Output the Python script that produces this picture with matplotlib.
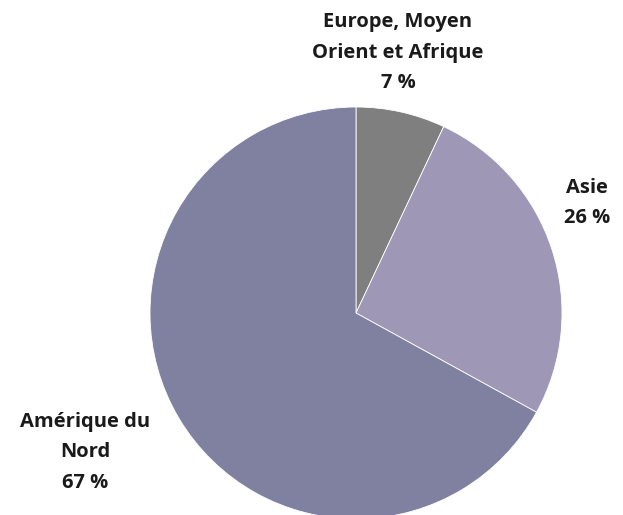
import matplotlib.pyplot as plt

regions = ['Europe, Moyen\nOrient et Afrique', 'Asie', 'Amérique du\nNord']
shares = [7, 26, 67]
colors = ['#7f7f7f', '#9e98b6', '#8081a0']
# label anchor positions in pixel space (x, y from top)
label_pos = [(398, 53), (587, 203), (85, 452)]

plt.rcParams['font.family'] = ['Open Sans', 'DejaVu Sans']

fig = plt.figure(figsize=(6.23, 5.15), dpi=100)
ax = fig.add_axes([0, 0, 1, 1])

ax.pie(shares, colors=colors, startangle=90, counterclock=False,
       center=(356, 515 - 313), radius=206,
       wedgeprops=dict(edgecolor='white', linewidth=0.6))

# pie() resets the limits, so set them afterwards
ax.set_xlim(0, 623)
ax.set_ylim(0, 515)
ax.set_aspect('equal')
ax.axis('off')

for name, val, (x, y) in zip(regions, shares, label_pos):
    ax.text(x, 515 - y, f'{name}\n{val} %', ha='center', va='center',
            fontsize=14.5, fontweight='bold', color='#1a1a1a', linespacing=1.7)

fig.savefig('out.png', dpi=100)
